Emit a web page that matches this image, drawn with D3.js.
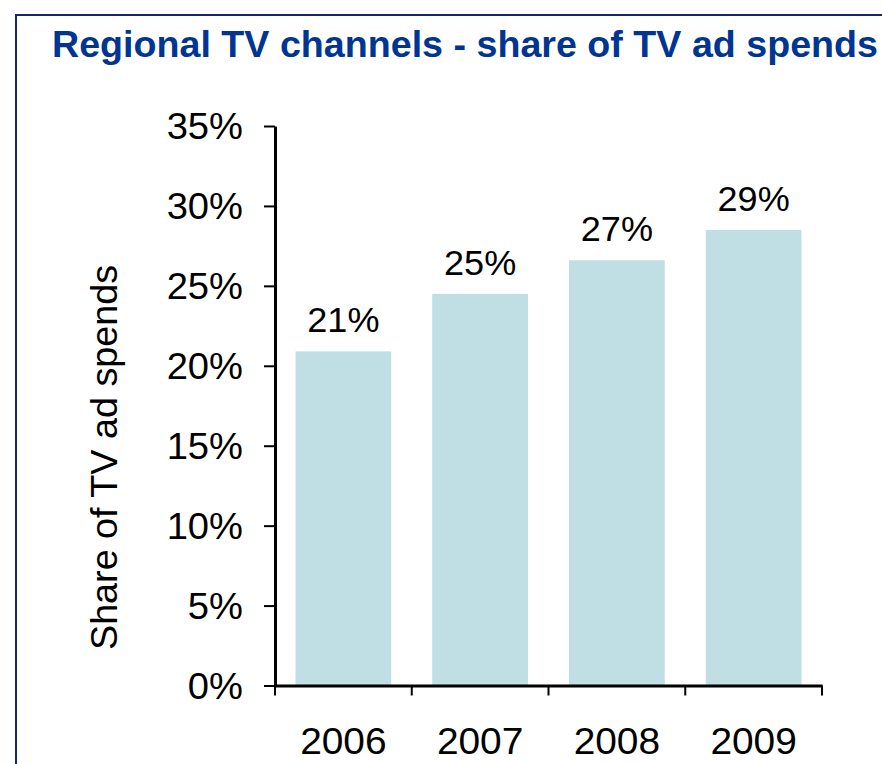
<!DOCTYPE html>
<html>
<head>
<meta charset="utf-8">
<script src="https://cdn.jsdelivr.net/npm/d3@7"></script>
<style>
  html, body { margin: 0; padding: 0; background: #fff; }
  svg { display: block; font-family: "Liberation Sans", Arial, Helvetica, sans-serif; }
</style>
</head>
<body>
<svg id="chart" width="882" height="764"></svg>
<script>
// ---- data ----
const years = ["2006", "2007", "2008", "2009"];
const shares = [0.209, 0.245, 0.266, 0.285];
const shareLabels = ["21%", "25%", "27%", "29%"];
const yTicks = [0, 0.05, 0.10, 0.15, 0.20, 0.25, 0.30, 0.35];
const titleText = "Regional TV channels - share of TV ad spends";
const yTitle = "Share of TV ad spends";

const svg = d3.select("#chart");

// frame
svg.append("rect")
  .attr("x", 16).attr("y", 15)
  .attr("width", 900).attr("height", 800)
  .attr("fill", "none")
  .attr("stroke", "#0f2a6b")
  .attr("stroke-width", 2);

// stretch helper
function stretch(sel, factor) {
  sel.each(function () {
    const len = this.getComputedTextLength();
    d3.select(this).attr("textLength", len * factor).attr("lengthAdjust", "spacingAndGlyphs");
  });
}

// title
svg.append("text")
  .attr("x", 52).attr("y", 57)
  .attr("font-size", 37)
  .attr("font-weight", "bold")
  .attr("fill", "#003591")
  .attr("textLength", 826)
  .attr("lengthAdjust", "spacingAndGlyphs")
  .text(titleText);

// scales
const x = d3.scaleBand().domain(years).range([275, 822]).paddingInner(0.3).paddingOuter(0.15);
const y = d3.scaleLinear().domain([0, 0.35]).range([685.5, 126]);

// bars
svg.append("g").selectAll("rect")
  .data(years)
  .join("rect")
  .attr("x", d => x(d))
  .attr("width", x.bandwidth())
  .attr("y", (d, i) => y(shares[i]))
  .attr("height", (d, i) => y(0) - y(shares[i]))
  .attr("fill", "#bfdfe4");

// bar labels
const lbl = svg.append("g").selectAll("text")
  .data(years)
  .join("text")
  .attr("x", d => x(d) + x.bandwidth() / 2)
  .attr("y", (d, i) => y(shares[i]) - 19)
  .attr("text-anchor", "middle")
  .attr("font-size", 35)
  .attr("fill", "#000")
  .text((d, i) => shareLabels[i]);
stretch(lbl, 1.03);

// y axis
const yAxis = svg.append("g")
  .attr("transform", `translate(${x.range()[0]},0)`)
  .call(d3.axisLeft(y).tickValues(yTicks).tickSize(11).tickSizeOuter(0).tickPadding(21)
    .tickFormat(d3.format(".0%")));
yAxis.select(".domain").attr("stroke", "#000").attr("stroke-width", 3);
yAxis.selectAll(".tick line").attr("stroke", "#000").attr("stroke-width", 2);
yAxis.selectAll(".tick text")
  .attr("font-size", 36).attr("font-family", null).attr("fill", "#000").attr("dy", "0.36em");
stretch(yAxis.selectAll(".tick text"), 1.06);

// x axis (labels centred on bands)
const xAxis = svg.append("g")
  .attr("transform", `translate(0,${y(0)})`)
  .call(d3.axisBottom(x).tickSize(0).tickSizeOuter(0).tickPadding(43));
xAxis.select(".domain").attr("stroke", "#000").attr("stroke-width", 3);
xAxis.selectAll(".tick text")
  .attr("font-size", 36).attr("font-family", null).attr("fill", "#000");
stretch(xAxis.selectAll(".tick text"), 1.08);

// x boundary ticks
const boundaries = years.map(d => x(d) - (x.step() - x.bandwidth()) / 2).concat([x.range()[1]]);
xAxis.append("g").selectAll("line")
  .data(boundaries)
  .join("line")
  .attr("x1", d => d).attr("x2", d => d)
  .attr("y1", 0).attr("y2", 10)
  .attr("stroke", "#000").attr("stroke-width", 2);

// y axis title
svg.append("text")
  .attr("transform", `translate(116.5,${(265 + 650) / 2}) rotate(-90)`)
  .attr("text-anchor", "middle")
  .attr("font-size", 36)
  .attr("fill", "#000")
  .attr("textLength", 385)
  .attr("lengthAdjust", "spacingAndGlyphs")
  .text(yTitle);
</script>
</body>
</html>
